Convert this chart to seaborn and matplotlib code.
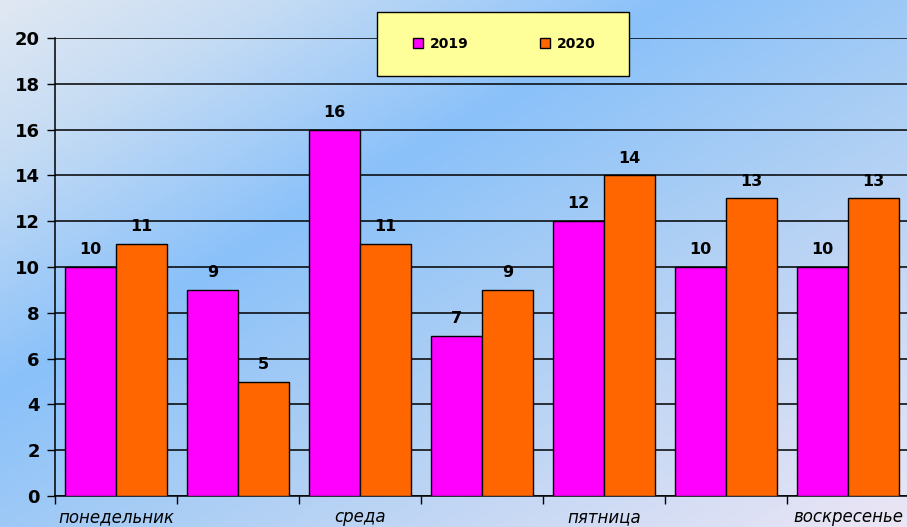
import numpy as np
import pandas as pd
import matplotlib
matplotlib.use("Agg")
import matplotlib.pyplot as plt
from matplotlib.colors import LinearSegmentedColormap
from matplotlib.patches import Rectangle
from matplotlib.lines import Line2D
import seaborn as sns

# data
days = ["понедельник", "вторник", "среда", "четверг", "пятница", "суббота", "воскресенье"]
shown_days = ["понедельник", "", "среда", "", "пятница", "", "воскресенье"]
years = ["2019", "2020"]
values_2019 = [10, 9, 16, 7, 12, 10, 10]
values_2020 = [11, 5, 11, 9, 14, 13, 13]
y_ticks = [0, 2, 4, 6, 8, 10, 12, 14, 16, 18, 20]

df = pd.DataFrame({
    "day": days * 2,
    "year": [years[0]] * len(days) + [years[1]] * len(days),
    "value": values_2019 + values_2020,
})

sns.set_style("white")
plt.rcParams["font.family"] = ["DejaVu Sans"]
plt.rcParams["text.color"] = "black"
plt.rcParams["xtick.color"] = "black"
plt.rcParams["ytick.color"] = "black"

colors = {"2019": "#FF00FF", "2020": "#FF6600"}

fig = plt.figure(figsize=(9.07, 5.27), dpi=100)

# gradient background
bg = fig.add_axes([0, 0, 1, 1], zorder=-5)
W, H = 400, 240
xx, yy = np.meshgrid(np.linspace(0, 1, W), np.linspace(0, 1, H))
t = (xx + yy) / 2
cmap = LinearSegmentedColormap.from_list(
    "bg", [(0, "#e0e8f2"), (0.15, "#c6dcf4"), (0.37, "#8ac1fa"),
           (0.55, "#a5ccf5"), (1, "#ece6f4")])
bg.imshow(t, cmap=cmap, aspect="auto", extent=[0, 1, 0, 1], origin="upper")
bg.axis("off")

ax = fig.add_axes([55 / 907, 1 - 496 / 527, 854 / 907, 458 / 527])
ax.set_facecolor("none")

sns.barplot(data=df, x="day", y="value", hue="year", palette=colors,
            width=0.83, edgecolor="black", linewidth=1, saturation=1,
            legend=False, ax=ax, zorder=3)

for c in ax.containers:
    ax.bar_label(c, padding=7, fontsize=11.5, fontweight="bold", color="black")

ax.set_ylim(0, 20)
ax.set_xlim(-0.5, 6.5)
ax.set_yticks(y_ticks)
ax.set_yticklabels([str(v) for v in y_ticks], fontsize=13, fontweight="bold")
ax.yaxis.grid(True, color="black", linewidth=1.1)
ax.set_axisbelow(True)

ax.set_xticks(np.arange(-0.5, 7, 1))
ax.set_xticklabels([])
ax.set_xticks(np.arange(7), minor=True)
ax.set_xticklabels(shown_days, minor=True, fontsize=12, style="italic")
ax.tick_params(axis="x", which="major", length=6, width=1, direction="out", bottom=True)
ax.tick_params(axis="x", which="minor", length=0, pad=9)
ax.tick_params(axis="y", length=6, width=1, direction="out", left=True, pad=5)

ax.set_xlabel("")
ax.set_ylabel("")
for side in ["top", "right"]:
    ax.spines[side].set_visible(False)
for side in ["left", "bottom"]:
    ax.spines[side].set_color("black")
    ax.spines[side].set_linewidth(1.1)

# legend box
box = Rectangle((377 / 907, 1 - 76 / 527), 252 / 907, 64 / 527,
                transform=fig.transFigure, facecolor="#FFFF99",
                edgecolor="black", linewidth=1, zorder=10)
fig.add_artist(box)
handles = [Line2D([], [], marker="s", linestyle="none", markersize=7.5,
                  markerfacecolor=colors[y], markeredgecolor="black",
                  markeredgewidth=1) for y in years]
leg = fig.legend(handles, years, loc="center", bbox_to_anchor=(504 / 907, 1 - 44 / 527),
                 ncol=2, frameon=False, handlelength=0.8, handletextpad=0.45,
                 columnspacing=5.1, prop={"weight": "bold", "size": 10})
leg.set_zorder(11)

plt.savefig("out.png", dpi=100)
